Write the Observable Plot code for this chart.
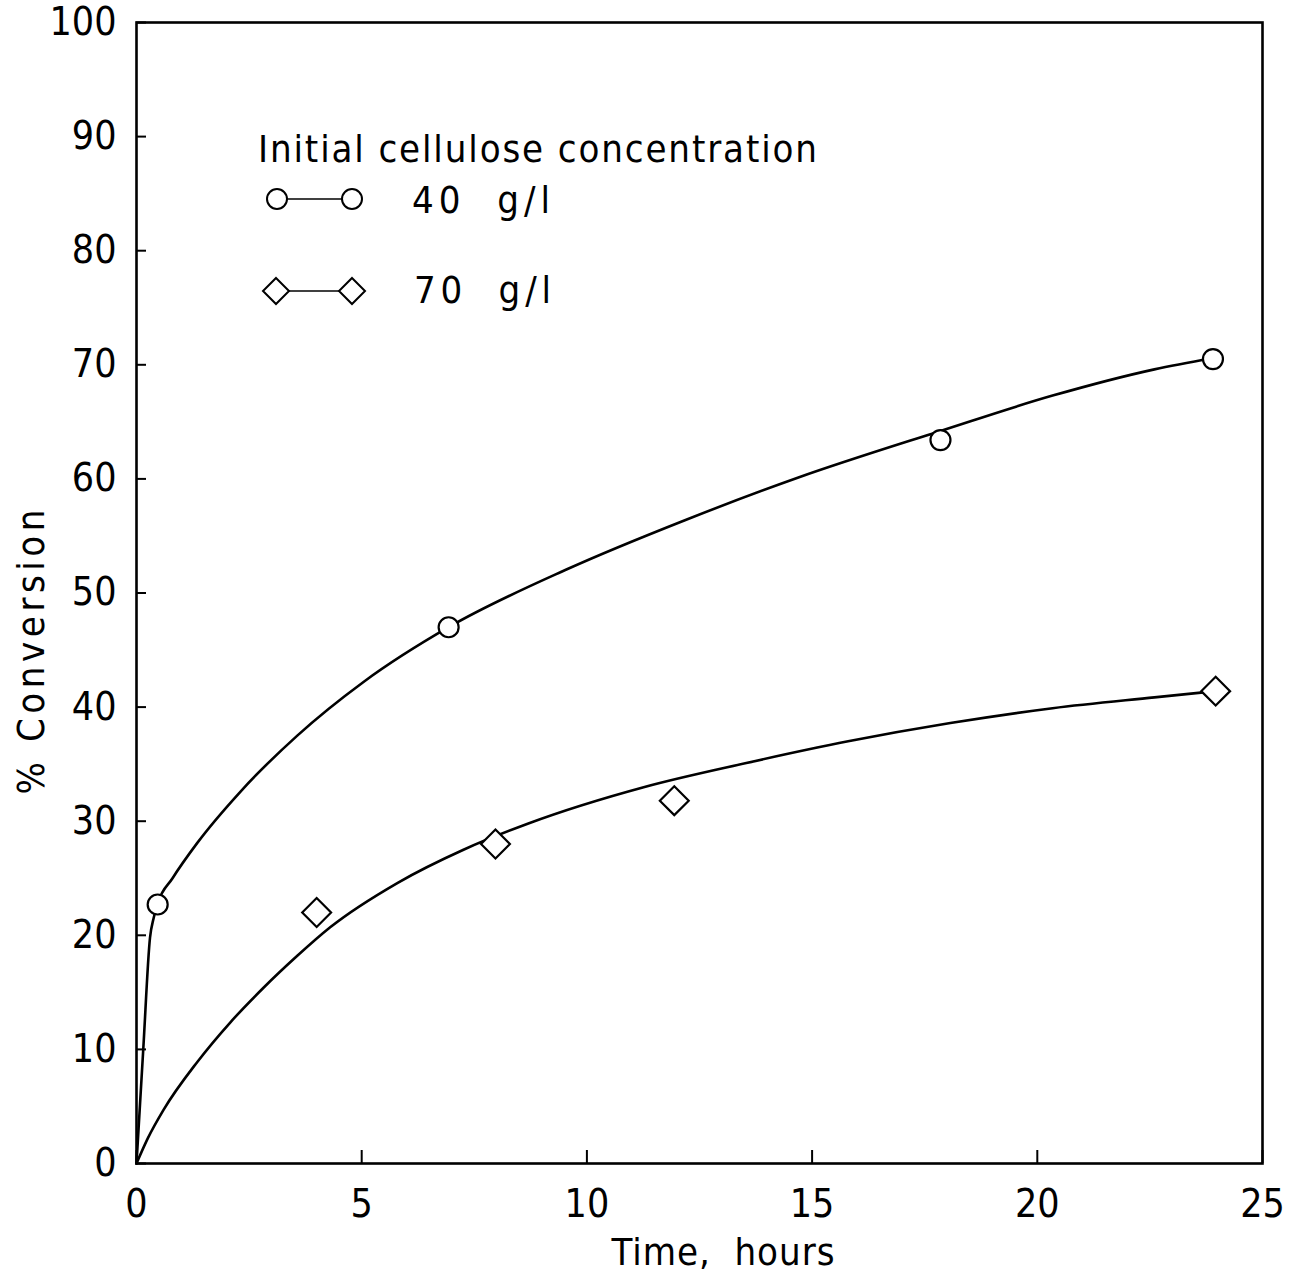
<!DOCTYPE html>
<html>
<head>
<meta charset="utf-8">
<script src="https://cdn.jsdelivr.net/npm/d3@7"></script>
<script src="https://cdn.jsdelivr.net/npm/@observablehq/plot@0.6"></script>
<style>
  html, body { margin: 0; padding: 0; background: #fff; }
  #chart svg { display: block; }
</style>
</head>
<body>
<div id="chart"></div>
<script>
// ---- data ----
const xTicks = [0, 5, 10, 15, 20, 25];
const yTicks = [0, 10, 20, 30, 40, 50, 60, 70, 80, 90, 100];

// measured points
const time40 = [0.47, 6.93, 17.85, 23.9];
const conv40 = [22.7, 47.0, 63.4, 70.5];
const time70 = [4.0, 7.97, 11.94, 23.96];
const conv70 = [22.0, 28.0, 31.8, 41.4];

// fitted curves
const curveTime40 = [0, 0.15, 0.3, 0.38, 0.47, 0.8, 1.35, 2.31, 3.57, 5.04, 6.93, 9.57, 12.19, 14.68, 17.85, 20.34, 22.6, 23.9];
const curveConv40 = [0, 10, 19.8, 21.5, 22.8, 25.0, 28.1, 32.6, 37.5, 42.2, 47.0, 52.1, 56.4, 60.1, 64.2, 67.3, 69.6, 70.6];
const curveTime70 = [0, 0.25, 0.6, 1.35, 2.09, 2.82, 3.57, 4.3, 5.8, 7.26, 8.7, 11.28, 13.54, 15.8, 18.07, 20.34, 22.6, 23.96];
const curveConv70 = [0, 2.2, 4.7, 8.9, 12.4, 15.4, 18.2, 20.7, 24.6, 27.5, 29.8, 33.0, 35.1, 37.0, 38.6, 39.9, 40.85, 41.4];

const seriesLabels = ["40  g/l", "70  g/l"];
const legendTitle = "Initial cellulose concentration";
const xLabel = "Time,  hours";
const yLabel = "% Conversion";

// ---- tables ----
const pts40 = time40.map((t, i) => ({t, c: conv40[i]}));
const pts70 = time70.map((t, i) => ({t, c: conv70[i]}));
const crv40 = curveTime40.map((t, i) => ({t, c: curveConv40[i]}));
const crv70 = curveTime70.map((t, i) => ({t, c: curveConv70[i]}));

const FONT = "'Liberation Sans Narrow', 'DejaVu Sans Condensed', 'Liberation Sans', sans-serif";

const chart = Plot.plot({
  width: 1303,
  height: 1283,
  marginTop: 22,
  marginBottom: 120,
  marginLeft: 136,
  marginRight: 41,
  style: {fontFamily: FONT, fontSize: "39px", color: "#000", background: "#fff"},
  x: {domain: [0, 25]},
  y: {domain: [0, 100]},
  marks: [
    Plot.frame({stroke: "#000", strokeWidth: 2.6}),
    // inward ticks
    Plot.axisX(xTicks, {tickSize: 13, dy: -13, text: null, strokeWidth: 2, label: null}),
    Plot.axisY(yTicks, {tickSize: 10, dx: 10, text: null, strokeWidth: 2, label: null}),
    // tick labels
    Plot.axisX(xTicks, {tickSize: 0, tickPadding: 26, label: null, fontSize: 39}),
    Plot.axisY(yTicks, {tickSize: 0, tickPadding: 20, label: null, fontSize: 39}),
    Plot.line(crv40, {x: "t", y: "c", curve: "monotone-x", stroke: "#000", strokeWidth: 2.6}),
    Plot.line(crv70, {x: "t", y: "c", curve: "monotone-x", stroke: "#000", strokeWidth: 2.6}),
    Plot.dot(pts40, {x: "t", y: "c", r: 10, symbol: "circle", stroke: "#000", fill: "#fff", strokeWidth: 2.2}),
    Plot.dot(pts70, {x: "t", y: "c", r: 13, symbol: "diamond2", stroke: "#000", fill: "#fff", strokeWidth: 2.2})
  ]
});

document.getElementById("chart").appendChild(chart);

// ---- legend and axis titles ----
const svg = d3.select(chart);
const g = svg.append("g").attr("font-family", FONT).attr("fill", "#000").attr("text-anchor", "start");

g.append("text").attr("x", 258).attr("y", 162).attr("font-size", 38)
  .attr("textLength", 559).attr("lengthAdjust", "spacing").text(legendTitle);

// row 1: circles
g.append("line").attr("x1", 277).attr("x2", 352).attr("y1", 199).attr("y2", 199)
  .attr("stroke", "#000").attr("stroke-width", 1.6);
[277, 352].forEach(cx => g.append("circle").attr("cx", cx).attr("cy", 199).attr("r", 10)
  .attr("fill", "#fff").attr("stroke", "#000").attr("stroke-width", 2));
g.append("text").attr("x", 412).attr("y", 213).attr("font-size", 38).style("white-space", "pre")
  .attr("textLength", 138).attr("lengthAdjust", "spacing").text(seriesLabels[0]);

// row 2: diamonds
g.append("line").attr("x1", 276).attr("x2", 352).attr("y1", 291).attr("y2", 291)
  .attr("stroke", "#000").attr("stroke-width", 1.6);
[276, 352].forEach(cx => g.append("path")
  .attr("d", `M${cx},${291 - 13}L${cx + 13},291L${cx},${291 + 13}L${cx - 13},291Z`)
  .attr("fill", "#fff").attr("stroke", "#000").attr("stroke-width", 2));
g.append("text").attr("x", 414).attr("y", 303).attr("font-size", 38).style("white-space", "pre")
  .attr("textLength", 137).attr("lengthAdjust", "spacing").text(seriesLabels[1]);

// axis titles
g.append("text").attr("x", 723).attr("y", 1265).attr("font-size", 38).attr("text-anchor", "middle")
  .style("white-space", "pre")
  .attr("textLength", 223).attr("lengthAdjust", "spacing").text(xLabel);
g.append("text").attr("transform", "translate(44,652) rotate(-90)").attr("font-size", 38)
  .attr("text-anchor", "middle").style("white-space", "pre")
  .attr("textLength", 285).attr("lengthAdjust", "spacing").text(yLabel);
</script>
</body>
</html>
